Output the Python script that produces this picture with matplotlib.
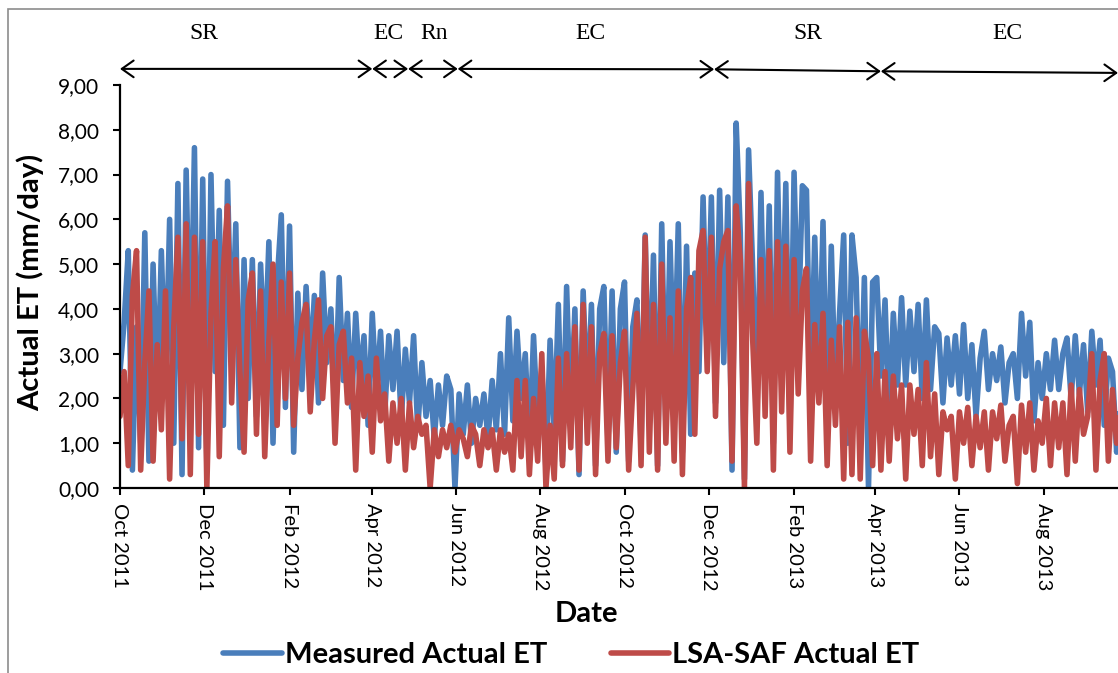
import matplotlib

matplotlib.use("Agg")

import matplotlib.pyplot as plt
import matplotlib.dates as mdates
from matplotlib.ticker import FuncFormatter, MultipleLocator
from matplotlib.patches import Rectangle
import pandas as pd

# daily ET (mm/day), one value every 3 days starting 1 Oct 2011
measured_et = [
    2.6, 3.7, 5.3, 0.4, 3.6, 1.0, 5.7, 0.6, 5.0, 1.8,
    5.3, 2.2, 6.0, 1.0, 6.8, 0.3, 7.1, 2.5, 7.6, 0.9,
    6.9, 0.5, 7.0, 2.6, 6.2, 1.4, 6.85, 3.1, 5.9, 0.9,
    5.1, 2.0, 5.1, 1.6, 5.0, 2.8, 5.5, 1.0, 4.6, 6.1,
    1.8, 5.85, 0.8, 4.35, 2.2, 4.5, 2.6, 4.3, 1.9, 4.8,
    2.8, 4.0, 1.6, 4.7, 2.4, 3.9, 1.8, 3.9, 2.3, 3.4,
    1.4, 3.9, 2.1, 3.5, 1.6, 3.4, 2.2, 3.5, 1.5, 3.1,
    1.9, 3.4, 1.3, 2.8, 1.6, 2.4, 1.1, 2.3, 1.4, 2.5,
    2.2, 0.0, 2.1, 1.2, 2.3, 1.0, 2.0, 1.4, 2.1, 1.1,
    2.4, 1.3, 3.0, 1.2, 3.8, 1.5, 3.5, 2.0, 3.0, 0.9,
    3.4, 1.4, 2.7, 0.4, 3.3, 1.2, 4.1, 0.6, 4.5, 1.5,
    4.0, 0.3, 4.4, 1.8, 4.1, 0.5, 4.0, 4.5, 1.0, 4.4,
    0.8, 4.0, 4.6, 0.6, 3.6, 4.2, 0.9, 5.65, 1.6, 5.2,
    0.5, 5.9, 1.4, 5.5, 2.3, 5.9, 0.8, 5.4, 1.2, 4.8,
    2.6, 6.5, 3.0, 6.5, 1.9, 6.65, 2.8, 6.5, 0.4, 8.15,
    5.7, 0.2, 7.55, 4.9, 1.5, 6.6, 2.4, 6.3, 1.0, 7.05,
    2.7, 6.8, 1.3, 7.05, 3.4, 6.75, 6.65, 1.8, 5.6, 2.2,
    5.95, 1.2, 5.4, 2.0, 3.9, 5.65, 1.0, 5.65, 4.7, 1.2,
    4.7, 0.0, 4.6, 4.7, 2.5, 4.2, 1.4, 3.9, 2.3, 4.25,
    2.3, 3.95, 2.6, 4.1, 2.0, 4.2, 2.2, 3.6, 3.45, 1.9,
    3.35, 2.3, 3.4, 2.1, 3.65, 2.0, 3.2, 1.6, 2.9, 3.5,
    2.2, 3.0, 2.4, 3.15, 1.9, 2.8, 3.0, 2.0, 3.9, 2.5,
    3.7, 1.5, 2.8, 2.0, 3.0, 2.2, 3.3, 2.2, 3.0, 3.35,
    2.0, 3.4, 2.1, 3.2, 1.7, 3.5, 2.3, 3.3, 1.4, 2.9, 2.6, 0.8, 2.3, 0.0,
]

lsa_saf_et = [
    1.6, 2.6, 0.5, 4.3, 5.3, 0.4, 2.8, 4.4, 0.6, 3.2,
    1.3, 4.4, 0.2, 3.6, 5.6, 1.1, 5.9, 0.3, 5.6, 1.2,
    5.5, 0.0, 3.9, 5.5, 0.7, 4.9, 6.3, 1.9, 5.1, 2.6,
    0.8, 4.2, 4.8, 1.2, 4.4, 0.7, 3.3, 5.0, 1.4, 4.6,
    2.0, 4.8, 1.4, 2.9, 3.7, 4.1, 1.7, 3.3, 4.2, 2.0,
    3.4, 3.6, 1.0, 3.2, 3.5, 1.9, 2.9, 0.4, 2.8, 1.6,
    2.5, 0.8, 2.9, 1.5, 2.1, 0.6, 1.9, 1.0, 2.0, 0.4,
    1.9, 0.9, 1.6, 1.2, 1.4, 0.0, 1.3, 0.7, 1.3, 0.9,
    1.4, 0.8, 1.3, 1.1, 0.7, 1.4, 1.2, 0.5, 1.3, 0.9,
    1.3, 0.4, 1.3, 0.8, 1.2, 0.4, 2.4, 0.7, 2.4, 0.3,
    2.0, 0.6, 3.0, 0.0, 1.4, 0.2, 2.9, 0.5, 3.0, 0.9,
    3.6, 0.4, 4.1, 1.0, 3.6, 0.3, 3.0, 3.45, 0.6, 3.4,
    0.9, 2.8, 3.5, 0.4, 2.2, 3.9, 0.5, 5.6, 0.8, 4.1,
    0.4, 5.0, 1.0, 3.8, 0.6, 4.4, 0.3, 4.0, 4.7, 1.2,
    5.3, 5.75, 2.6, 5.6, 1.6, 4.9, 5.5, 5.75, 0.6, 6.3,
    5.1, 0.0, 6.8, 3.3, 1.0, 5.1, 1.6, 5.3, 0.4, 5.5,
    1.7, 5.4, 0.8, 5.1, 2.1, 4.4, 4.9, 0.6, 3.65, 1.9,
    3.9, 0.5, 3.3, 1.4, 3.6, 0.2, 3.7, 0.3, 3.8, 0.2,
    3.5, 2.9, 0.5, 3.0, 0.4, 2.6, 0.6, 2.5, 1.1, 2.3,
    0.2, 2.3, 1.2, 2.2, 0.5, 2.8, 0.7, 2.1, 0.3, 1.7,
    1.3, 1.6, 0.2, 1.7, 1.0, 1.8, 0.5, 1.6, 0.9, 1.7,
    0.4, 1.7, 1.1, 1.85, 0.6, 1.4, 1.6, 0.1, 1.85, 0.8,
    1.9, 0.4, 1.5, 1.0, 2.0, 0.5, 1.9, 0.9, 1.9, 0.3,
    2.3, 0.6, 2.2, 1.2, 1.6, 3.0, 0.4, 2.4, 3.0, 0.6, 2.2, 1.0, 2.0, 0.4,
]

# measurement periods shown above the plot
period_edges = ["2011-10-01", "2012-04-01", "2012-04-27", "2012-06-02",
                "2012-12-05", "2013-04-05", "2013-09-24"]
period_names = ["SR", "EC", "Rn", "EC", "SR", "EC"]
period_label_dates = ["2011-12-01", "2012-04-13", "2012-05-16",
                      "2012-09-06", "2013-02-11", "2013-07-06"]

BLUE = "#4A7EBB"
RED = "#BE4B48"
SANS = ["Lato", "DejaVu Sans"]

start = pd.Timestamp("2011-10-01")
dates = pd.date_range(start, periods=max(len(measured_et), len(lsa_saf_et)), freq="3D")

fig = plt.figure(figsize=(11.18, 6.73), dpi=100)
ax = fig.add_axes([120 / 1118, 1 - 488 / 673, 998 / 1118, 403 / 673])

line_kw = dict(lw=4.0, solid_joinstyle="round", solid_capstyle="round")
ax.plot(dates[:len(measured_et)], measured_et, color=BLUE,
        label="Measured Actual ET", **line_kw)
ax.plot(dates[:len(lsa_saf_et)], lsa_saf_et, color=RED,
        label="LSA-SAF Actual ET", **line_kw)

ax.set_ylim(0, 9)
ax.set_xlim(start, pd.Timestamp(period_edges[-1]))
ax.yaxis.set_major_locator(MultipleLocator(1))
ax.yaxis.set_major_formatter(FuncFormatter(lambda v, p: f"{v:.2f}".replace(".", ",")))
ax.xaxis.set_major_locator(mdates.MonthLocator(bymonth=(2, 4, 6, 8, 10, 12)))
ax.xaxis.set_major_formatter(mdates.DateFormatter("%b %Y"))

for s in ("top", "right"):
    ax.spines[s].set_visible(False)
for s in ("left", "bottom"):
    ax.spines[s].set_linewidth(1.6)
ax.tick_params(direction="out", length=5, width=1.5)
ax.tick_params(axis="y", pad=10)
ax.tick_params(axis="x", pad=6)
for lab in ax.get_yticklabels():
    lab.set_fontfamily(SANS)
    lab.set_fontsize(15)
for lab in ax.get_xticklabels():
    lab.set_fontfamily(SANS)
    lab.set_fontsize(14.5)
    lab.set_rotation(270)
    lab.set_ha("center")
    lab.set_va("top")

ax.set_ylabel("Actual ET (mm/day)", fontfamily=SANS, fontsize=21, fontweight="bold")
ax.yaxis.set_label_coords(-0.076, 0.51)
ax.set_xlabel("Date", fontfamily=SANS, fontsize=21, fontweight="bold")
ax.xaxis.set_label_coords((586 - 120) / 998, -0.28)

# period arrows and labels above the axes
trans = ax.get_xaxis_transform()
edge_y = [1.040, 1.040, 1.040, 1.040, 1.039, 1.034, 1.030]
edge_x = [mdates.date2num(pd.Timestamp(d)) for d in period_edges]
for i in range(len(period_names)):
    ax.annotate("", xy=(edge_x[i + 1], edge_y[i + 1]), xytext=(edge_x[i], edge_y[i]),
                xycoords=trans, textcoords=trans, annotation_clip=False,
                arrowprops=dict(arrowstyle="<->,head_length=0.85,head_width=0.6",
                                lw=1.5, color="black", shrinkA=0, shrinkB=0))
    ax.text(mdates.date2num(pd.Timestamp(period_label_dates[i])), 1.129, period_names[i],
            transform=trans, ha="center", va="center",
            fontfamily="Liberation Serif", fontsize=17, clip_on=False)

fig.legend(loc="center", bbox_to_anchor=(0.511, 0.027), ncol=2, frameon=False,
           prop=dict(family=SANS, size=21, weight="bold"),
           handlelength=2.0, handletextpad=0.1, columnspacing=2.2)

# chart border
fig.patches.append(Rectangle((8 / 1118, -0.1), 1.2, 1.1 - 9 / 673,
                             transform=fig.transFigure, fill=False,
                             edgecolor="#8c8c8c", lw=1.2))

fig.savefig("out.png", dpi=100)
